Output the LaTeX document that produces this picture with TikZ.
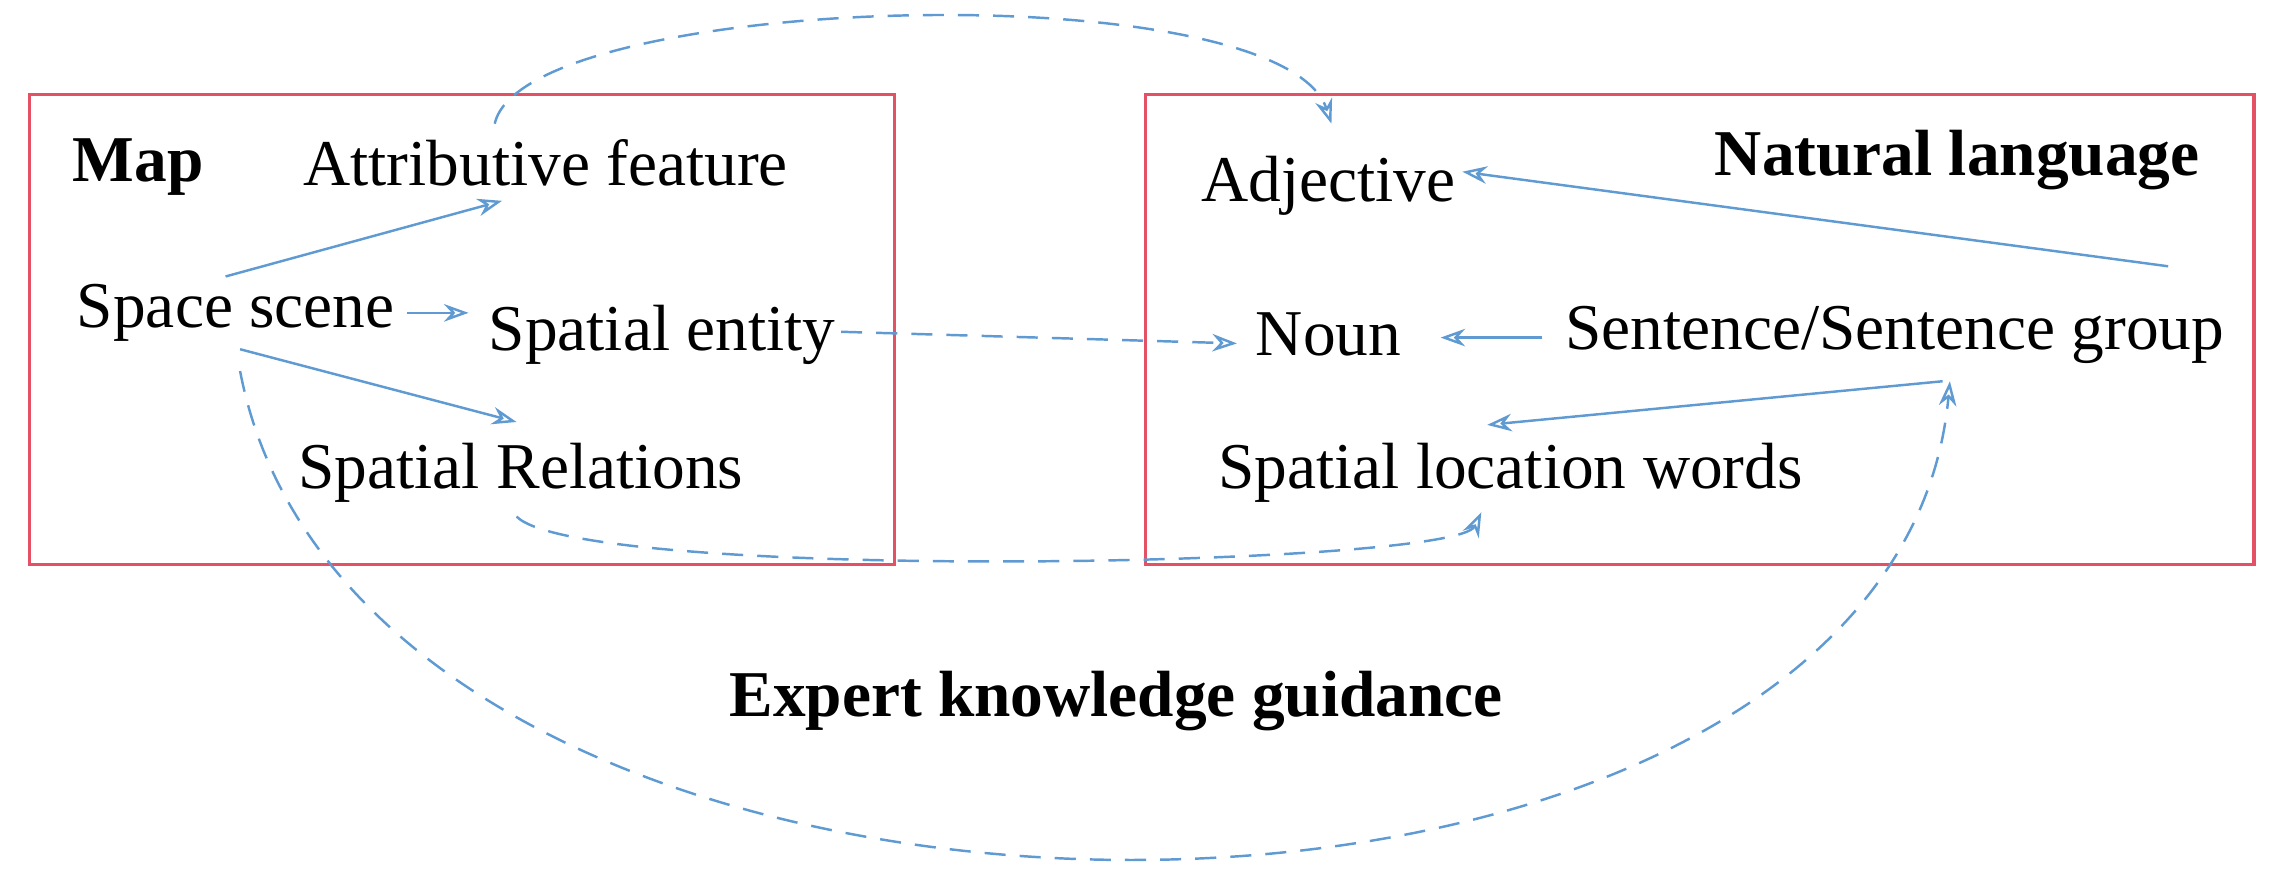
\documentclass[tikz,border=0pt]{standalone}
\usepackage{fontspec}
\setmainfont{Liberation Serif}
\usetikzlibrary{arrows.meta}
\definecolor{arr}{RGB}{95,155,210}
\definecolor{boxc}{RGB}{228,80,100}
\begin{document}
\begin{tikzpicture}[x=0.01455cm,y=-0.01455cm,
  lbl/.style={font=\fontsize{18.6}{22}\selectfont,inner sep=1pt},
  blbl/.style={lbl,font=\fontsize{18.6}{22}\selectfont\bfseries},
  frame/.style={draw=boxc,line width=0.9pt},
  sol/.style={draw=arr,line width=0.7pt,-{Stealth[length=7pt,width=5pt,open]}},
  dsh/.style={sol,dashed,dash pattern=on 6pt off 4pt}]
\useasboundingbox (0,0) rectangle (1560,602);
\draw[frame] (20,65) rectangle (615,388);
\draw[frame] (787,65) rectangle (1549,388);
\node[blbl] (map) at (95,115) {Map};
\node[lbl] (attr) at (375,112) {Attributive feature};
\node[lbl] (scene) at (162,215) {Space scene};
\node[lbl] (ent) at (455,230) {Spatial entity};
\node[lbl] (rel) at (358,325) {Spatial Relations};
\node[blbl] (nl) at (1345,110) {Natural language};
\node[lbl] (adj) at (913,128) {Adjective};
\node[lbl] (noun) at (913,230) {Noun};
\node[lbl] (sent) at (1302,230) {Sentence/Sentence group};
\node[lbl] (loc) at (1038,325) {Spatial location words};
\node[blbl] (exp) at (767,482) {Expert knowledge guidance};
\coordinate (a1) at (155,190); \coordinate (a2) at (345,138);
\draw[sol] (a1) -- (a2);
\coordinate (b1) at (280,215); \coordinate (b2) at (322,215);
\draw[sol] (b1) -- (b2);
\coordinate (c1) at (165,240); \coordinate (c2) at (355,290);
\draw[sol] (c1) -- (c2);
\coordinate (d1) at (1490,183); \coordinate (d2) at (1005,118);
\draw[sol] (d1) -- (d2);
\coordinate (n1) at (1060,232); \coordinate (n2) at (990,232);
\draw[sol] (n1) -- (n2);
\coordinate (e1) at (1335,262); \coordinate (e2) at (1022,292);
\draw[sol] (e1) -- (e2);
\coordinate (f1) at (340,85); \coordinate (f2) at (915,85);
\draw[dsh] (f1) .. controls (360,-5) and (880,-20) .. (f2);
\coordinate (g1) at (578,228); \coordinate (g2) at (850,236);
\draw[dsh] (g1) -- (g2);
\coordinate (h1) at (355,355); \coordinate (h2) at (1018,352);
\draw[dsh] (h1) .. controls (400,400) and (1000,390) .. (h2);
\coordinate (i1) at (165,255); \coordinate (i2) at (1340,262);
\draw[dsh] (i1) .. controls (250,700) and (1300,700) .. (i2);
\end{tikzpicture}
\end{document}
